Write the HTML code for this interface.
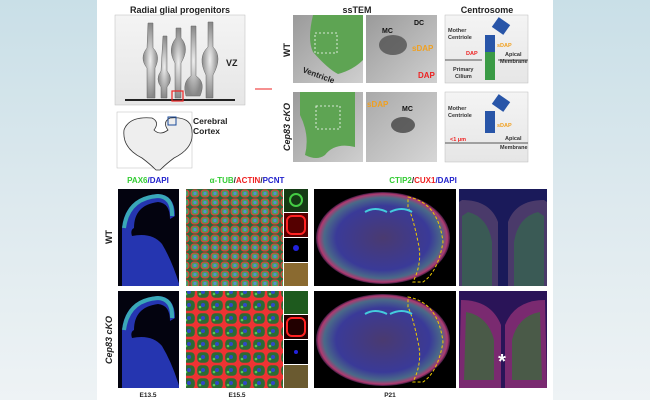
<!DOCTYPE html>
<html><head><meta charset="utf-8"><style>
html,body{margin:0;padding:0}
body{width:650px;height:400px;overflow:hidden;background:linear-gradient(180deg,#c9dfe7 0%,#dde9ee 50%,#eef3f5 100%);font-family:"Liberation Sans",sans-serif}
svg{position:absolute;left:0;top:0}
</style></head><body>
<svg width="650" height="400" viewBox="0 0 650 400" font-family="Liberation Sans, sans-serif">
<defs>
<linearGradient id="gr" x1="0" y1="0" x2="0" y2="1"><stop offset="0" stop-color="#f4f4f4"/><stop offset="1" stop-color="#e6e6e6"/></linearGradient>
<radialGradient id="cell" cx="0.5" cy="0.5" r="0.5"><stop offset="0" stop-color="#eee"/><stop offset="1" stop-color="#888"/></radialGradient>
<pattern id="cells" width="10" height="9" patternUnits="userSpaceOnUse"><rect width="10" height="9" fill="#2a6a3a"/><rect x="1" y="1" width="8" height="7" rx="3" fill="#4aa05a" stroke="#e33" stroke-width="1.1"/><circle cx="5" cy="4.5" r="1.6" fill="#5a8ad0"/></pattern>
<pattern id="cells2" width="14" height="13" patternUnits="userSpaceOnUse"><rect width="14" height="13" fill="#e33"/><rect x="1.2" y="1.2" width="11.6" height="10.6" rx="4" fill="#2d6b34"/><circle cx="7" cy="6" r="2" fill="#3048c8"/><circle cx="4" cy="8" r="1.3" fill="#5c5"/></pattern>
<radialGradient id="brain" cx="0.5" cy="0.5" r="0.5"><stop offset="0" stop-color="#4a3a70"/><stop offset="0.7" stop-color="#3a3a98"/><stop offset="0.88" stop-color="#4a6a88"/><stop offset="0.96" stop-color="#b03a70"/><stop offset="1" stop-color="#3a1a40"/></radialGradient>
<linearGradient id="tem" x1="0" y1="0" x2="1" y2="1"><stop offset="0" stop-color="#9a9a9a"/><stop offset="1" stop-color="#cfcfcf"/></linearGradient>
<clipPath id="c1"><rect x="118" y="189" width="61" height="97"/></clipPath>
<clipPath id="c2"><rect x="118" y="291" width="61" height="97"/></clipPath>
</defs>
<rect x="97" y="0" width="456" height="400" fill="#fff"/>
<text x="180" y="13" font-size="9" font-weight="bold" text-anchor="middle" fill="#222">Radial glial progenitors</text>
<rect x="115" y="15" width="130" height="90" fill="url(#gr)" stroke="#bbb" stroke-width="0.5"/>
<g fill="url(#cell)" stroke="#666" stroke-width="0.5">
<path d="M148 23 h5 v25 q8 8 2 20 v30 h-8 v-30 q-8-10 0-20z"/>
<path d="M163 36 h4 v35 q7 8 0 16 v11 h-6 v-11 q-6-8 0-16z"/>
<path d="M176 28 h5 v10 q9 10 0 25 v35 h-6 v-35 q-8-14 1-25z"/>
<path d="M191 26 h5 v50 q10 6 4 20 h-14 q-4-14 5-20z"/>
<path d="M208 22 h5 v25 q10 10 0 28 v23 h-7 v-23 q-9-18 2-28z"/>
</g>
<line x1="125" y1="100" x2="235" y2="100" stroke="#222" stroke-width="2"/>
<rect x="172" y="91" width="11" height="10" fill="none" stroke="#e22" stroke-width="1.2"/>
<text x="226" y="66" font-size="9" font-weight="bold" fill="#222">VZ</text>
<rect x="117" y="112" width="75" height="56" fill="#fff" stroke="#bbb" stroke-width="0.5"/>
<path d="M124 130 q5-14 28-12 q8 4 2 12 q6 6 14 0 q-6-8 2-12 q22-2 22 14 q2 16-18 26 q-8 6-14 12 h-4 q-6-6-14-12 q-20-10-18-28z" fill="#eee" stroke="#333" stroke-width="0.8"/>
<rect x="168" y="117" width="8" height="8" fill="none" stroke="#1a4a9a" stroke-width="1"/>
<text x="193" y="124" font-size="8.5" font-weight="bold" fill="#222">Cerebral</text>
<text x="193" y="134" font-size="8.5" font-weight="bold" fill="#222">Cortex</text>
<line x1="255" y1="89" x2="272" y2="89" stroke="#e22" stroke-width="1"/>
<text x="357" y="13" font-size="9" font-weight="bold" text-anchor="middle" fill="#222">ssTEM</text>
<text x="487" y="13" font-size="9" font-weight="bold" text-anchor="middle" fill="#222">Centrosome</text>
<rect x="293" y="15" width="70" height="68" fill="url(#tem)"/>
<path d="M313 15 h50 v45 q-10 10-25 14 q-10-5-25-22 q-6-12 0-37z" fill="#5ea453"/>
<rect x="315" y="33" width="22" height="20" fill="none" stroke="#fff" stroke-dasharray="2 2" stroke-width="0.8"/>
<text x="302" y="72" font-size="8" font-weight="bold" fill="#222" transform="rotate(20 302 72)">Ventricle</text>
<rect x="366" y="15" width="71" height="68" fill="url(#tem)"/>
<ellipse cx="393" cy="45" rx="14" ry="10" fill="#444" opacity="0.7"/>
<text x="382" y="33" font-size="7" font-weight="bold" fill="#111">MC</text><text x="414" y="25" font-size="7" font-weight="bold" fill="#111">DC</text>
<text x="412" y="51" font-size="8" font-weight="bold" fill="#f0a020">sDAP</text><text x="418" y="78" font-size="8" font-weight="bold" fill="#e22">DAP</text>
<rect x="293" y="92" width="70" height="70" fill="url(#tem)"/>
<path d="M300 92 h55 v55 q-20-5-30 8 q-8 6-20 0 q5-20 -5-40z" fill="#5ea453"/>
<rect x="316" y="106" width="24" height="23" fill="none" stroke="#fff" stroke-dasharray="2 2" stroke-width="0.8"/>
<rect x="366" y="92" width="71" height="70" fill="url(#tem)" opacity="0.85"/>
<ellipse cx="403" cy="125" rx="12" ry="8" fill="#333" opacity="0.7"/>
<text x="367" y="107" font-size="8" font-weight="bold" fill="#f0a020">sDAP</text><text x="402" y="111" font-size="7" font-weight="bold" fill="#111">MC</text>
<text x="290" y="50" font-size="9" font-weight="bold" fill="#222" text-anchor="middle" transform="rotate(-90 290 50)">WT</text>
<text x="290" y="127" font-size="9" font-weight="bold" font-style="italic" fill="#222" text-anchor="middle" transform="rotate(-90 290 127)">Cep83 cKO</text>
<g font-size="5.5" font-weight="bold" fill="#333">
<rect x="445" y="15" width="83" height="68" fill="url(#gr)" stroke="#bbb" stroke-width="0.5"/>
<rect x="485" y="35" width="10" height="17" fill="#2855a8"/><rect x="485" y="52" width="10" height="28" fill="#3a9a45"/>
<rect x="494" y="20" width="14" height="12" fill="#2855a8" transform="rotate(35 501 26)"/>
<line x1="445" y1="60" x2="482" y2="60" stroke="#555"/><line x1="498" y1="60" x2="528" y2="60" stroke="#555"/>
<text x="448" y="32">Mother</text><text x="448" y="39">Centriole</text><text x="466" y="55" fill="#e22">DAP</text><text x="497" y="47" fill="#f0a020">sDAP</text>
<text x="505" y="56">Apical</text><text x="500" y="63">Membrane</text><text x="453" y="71">Primary</text><text x="455" y="78">Cilium</text>
<rect x="445" y="92" width="83" height="70" fill="url(#gr)" stroke="#bbb" stroke-width="0.5"/>
<rect x="485" y="111" width="10" height="22" fill="#2855a8"/>
<rect x="494" y="97" width="14" height="12" fill="#2855a8" transform="rotate(35 501 103)"/>
<line x1="445" y1="143" x2="528" y2="143" stroke="#555"/>
<text x="448" y="110">Mother</text><text x="448" y="117">Centriole</text><text x="497" y="127" fill="#f0a020">sDAP</text>
<text x="450" y="141" fill="#e22">&lt;1 μm</text><text x="505" y="140">Apical</text><text x="500" y="149">Membrane</text>
</g>
<g font-size="8" font-weight="bold">
<text x="148" y="183" text-anchor="middle"><tspan fill="#3c3">PAX6</tspan><tspan fill="#22c">/DAPI</tspan></text>
<text x="247" y="183" text-anchor="middle"><tspan fill="#3c3">α-TUB</tspan><tspan fill="#222">/</tspan><tspan fill="#e22">ACTIN</tspan><tspan fill="#222">/</tspan><tspan fill="#22c">PCNT</tspan></text>
<text x="423" y="183" text-anchor="middle"><tspan fill="#3c3">CTIP2</tspan><tspan fill="#222">/</tspan><tspan fill="#e22">CUX1</tspan><tspan fill="#22c">/DAPI</tspan></text>
<text x="148" y="397" text-anchor="middle" fill="#222" font-size="6.5">E13.5</text>
<text x="237" y="397" text-anchor="middle" fill="#222" font-size="6.5">E15.5</text>
<text x="390" y="397" text-anchor="middle" fill="#222" font-size="6.5">P21</text>
<text x="112" y="237" font-size="9" fill="#222" text-anchor="middle" transform="rotate(-90 112 237)">WT</text>
<text x="112" y="340" font-size="9" font-style="italic" fill="#222" text-anchor="middle" transform="rotate(-90 112 340)">Cep83 cKO</text>
</g>
<g>
<rect x="118" y="189" width="61" height="97" fill="#03030f"/>
<g clip-path="url(#c1)">
<path d="M122 228 q3-30 35-34 q18 0 18 22 l-5 3 q0-16-12-17 q-24 3-24 26 q-4 2 -2 8 q20-4 30 8 q12 20 20 50 h-60z" fill="#2535b0"/>
<path d="M124 228 q4-30 34-32 q15 1 14 20" fill="none" stroke="#3aa8b8" stroke-width="4"/>
</g>
<rect x="118" y="291" width="61" height="97" fill="#03030f"/>
<g clip-path="url(#c2)">
<path d="M122 330 q3-30 35-34 q18 0 18 22 l-5 3 q0-16-12-17 q-24 3-24 26 q-4 2 -2 8 q20-4 30 8 q12 20 20 50 h-60z" fill="#2535b0"/>
<path d="M124 330 q4-30 34-32 q15 1 14 20" fill="none" stroke="#3aa8b8" stroke-width="4"/>
</g>
<rect x="186" y="189" width="97" height="97" fill="url(#cells)"/>
<rect x="186" y="291" width="97" height="97" fill="url(#cells2)"/>
<rect x="284" y="189" width="24" height="23" fill="#143a14"/><circle cx="296" cy="200" r="6" fill="none" stroke="#4c4" stroke-width="2"/>
<rect x="284" y="213" width="24" height="24" fill="#500"/><rect x="287" y="216" width="18" height="18" rx="5" fill="none" stroke="#f22" stroke-width="2"/>
<rect x="284" y="238" width="24" height="24" fill="#000"/><circle cx="296" cy="248" r="3" fill="#22d"/>
<rect x="284" y="263" width="24" height="23" fill="#8a6a30"/>
<rect x="284" y="291" width="24" height="23" fill="#1e5a1e"/>
<rect x="284" y="315" width="24" height="24" fill="#200"/><rect x="287" y="318" width="18" height="18" rx="5" fill="none" stroke="#f22" stroke-width="2"/>
<rect x="284" y="340" width="24" height="24" fill="#000"/><circle cx="296" cy="352" r="2" fill="#22d"/>
<rect x="284" y="365" width="24" height="23" fill="#6a5a30"/>
<rect x="314" y="189" width="142" height="97" fill="#000"/>
<ellipse cx="383" cy="238" rx="67" ry="46" fill="url(#brain)"/>
<path d="M408 197 q30 5 35 45 q-5 30 -20 40 h-10 q10-20 5-40 q-5-25 -10-35z" fill="none" stroke="#ec0" stroke-width="1" stroke-dasharray="3 2"/>
<path d="M365 212 q10-6 22 0 M390 212 q12-6 22 0" stroke="#4cd" stroke-width="2" fill="none"/>
<rect x="314" y="291" width="142" height="97" fill="#000"/>
<ellipse cx="383" cy="340" rx="67" ry="46" fill="url(#brain)"/>
<path d="M408 297 q30 5 35 45 q-5 30 -20 40 h-10 q10-20 5-40 q-5-25 -10-35z" fill="none" stroke="#ec0" stroke-width="1" stroke-dasharray="3 2"/>
<path d="M365 314 q10-6 22 0 M390 314 q12-6 22 0" stroke="#4cd" stroke-width="2" fill="none"/>
<rect x="459" y="189" width="88" height="97" fill="#1a1a5a"/>
<path d="M462 200 q28 0 36 22 v64 h-39v-84z" fill="#4a3a6a"/><path d="M544 200 q-28 0 -36 22 v64 h39v-84z" fill="#4a3a6a"/>
<path d="M468 212 q20 5 24 30 v44 h-30v-70z" fill="#3a5a55"/><path d="M538 212 q-20 5 -24 30 v44 h30v-70z" fill="#3a5a55"/>
<rect x="459" y="291" width="88" height="97" fill="#2a1458"/>
<path d="M461 300 q30 0 40 25 v63 h-42z" fill="#7a2a70"/><path d="M545 300 q-30 0 -40 25 v63 h42z" fill="#7a2a70"/>
<path d="M466 312 q22 4 28 28 v40 h-30z" fill="#4a5a48"/><path d="M540 312 q-22 4 -28 28 v40 h30z" fill="#4a5a48"/>
<text x="502" y="368" font-size="20" font-weight="bold" fill="#fff" text-anchor="middle">*</text>
</g>
</svg>
</body></html>
